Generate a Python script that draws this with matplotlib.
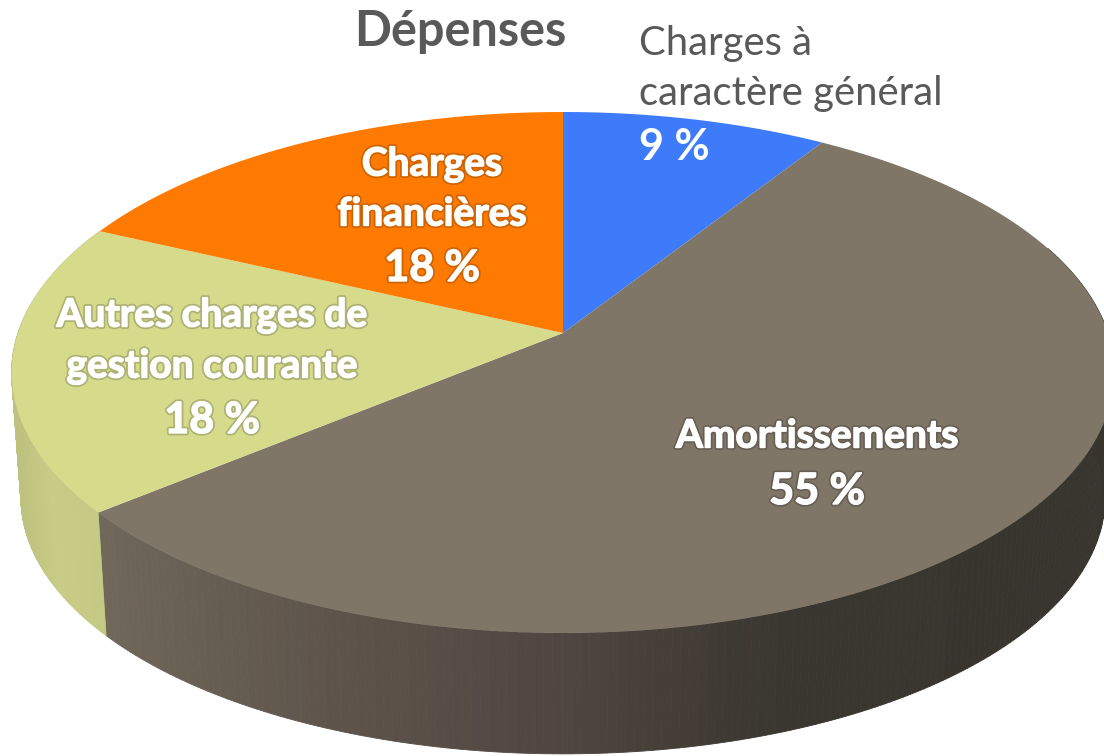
import numpy as np
import matplotlib
matplotlib.use('Agg')
import matplotlib.pyplot as plt
import matplotlib.patheffects as pe
from matplotlib.colors import to_rgb

# slices, clockwise from the top
categories = ['Charges à caractère général', 'Amortissements', 'Autres charges de gestion courante', 'Charges financières']
shares = [9, 55, 18, 18]
top_colors = ['#3D7BFB', '#7F7667', '#D6DB8C', '#FF7A00']
title = 'Dépenses'

# perspective of the disc, in pixels
CX, CY = 563, 333
A, B, K = 545, 254.5, 0.1516
DEPTH, SHRINK = 126, 0.983


def project(theta, scale=1.0, drop=0.0):
    w = 1 + K * np.sin(theta)
    x = CX + scale * A * np.cos(theta) / w
    y = CY + drop - scale * B * np.sin(theta) / w
    return x, y


def side_color(x, stops):
    xs = [s[0] for s in stops]
    cols = np.array([to_rgb(s[1]) for s in stops])
    return [np.interp(x, xs, cols[:, i]) for i in range(3)]


brown_stops = [(108, '#6F6759'), (300, '#60564D'), (560, '#50463F'), (720, '#3F3B34'), (800, '#38362F'), (1100, '#37352E')]
yellow_stops = [(15, '#BDC27E'), (50, '#C8CC86'), (108, '#C3C882')]

fig = plt.figure(figsize=(11.04, 7.56), dpi=100)
ax = fig.add_axes([0, 0, 1, 1])
ax.set_xlim(0, 1104)
ax.set_ylim(756, 0)
ax.axis('off')

edges = np.cumsum([0] + shares) / sum(shares)
angles = np.pi / 2 - 2 * np.pi * edges

# side wall, only for the slices facing the viewer
for i, stops in [(1, brown_stops), (2, yellow_stops)]:
    ts = np.linspace(angles[i], angles[i + 1], 241)
    for t0, t1 in zip(ts[:-1], ts[1:]):
        x0, y0 = project(t0)
        x1, y1 = project(t1)
        x2, y2 = project(t1, SHRINK, DEPTH)
        x3, y3 = project(t0, SHRINK, DEPTH)
        if np.sin(t0) > 0.35 and np.cos(t0) > 0:
            continue
        col = side_color((x0 + x1) / 2, stops)
        ax.fill([x0, x1, x2, x3], [y0, y1, y2, y3], color=col, lw=0.6, zorder=2)

# top face
for i, col in enumerate(top_colors):
    ts = np.linspace(angles[i], angles[i + 1], 200)
    x, y = project(ts)
    ax.fill(np.r_[CX, x], np.r_[CY, y], color=col, lw=0, zorder=3)

font = 'Lato'
shadow = [pe.withStroke(linewidth=3.5, foreground='#00000030'),
          pe.withStroke(linewidth=1.0, foreground='white')]

ax.text(460, 32, title, ha='center', va='center', family=font, fontsize=35, fontweight='bold', color='#595959')
ax.text(639, 43, 'Charges à', ha='left', va='center', family=font, fontsize=28.8, color='#595959')
ax.text(639, 93, 'caractère général', ha='left', va='center', family=font, fontsize=28.8, color='#595959')
ax.text(639, 147, f'{shares[0]} %', ha='left', va='center', family=font, fontsize=31, fontweight='bold', color='white', zorder=5)

label_lines = [
    (432, [164, 214, 268], ['Charges', 'financières', f'{shares[3]} %']),
    (212, [315, 366, 420], ['Autres charges de', 'gestion courante', f'{shares[2]} %']),
    (817, [436, 491], ['Amortissements', f'{shares[1]} %']),
]
for lx, ys, lines in label_lines:
    for ly, line in zip(ys, lines):
        is_pct = line.endswith('%')
        ax.text(lx, ly, line, ha='center', va='center', family=font, fontsize=31 if is_pct else 28,
                fontweight='bold', color='white', zorder=5, path_effects=shadow)

fig.savefig('out.png', dpi=100)
